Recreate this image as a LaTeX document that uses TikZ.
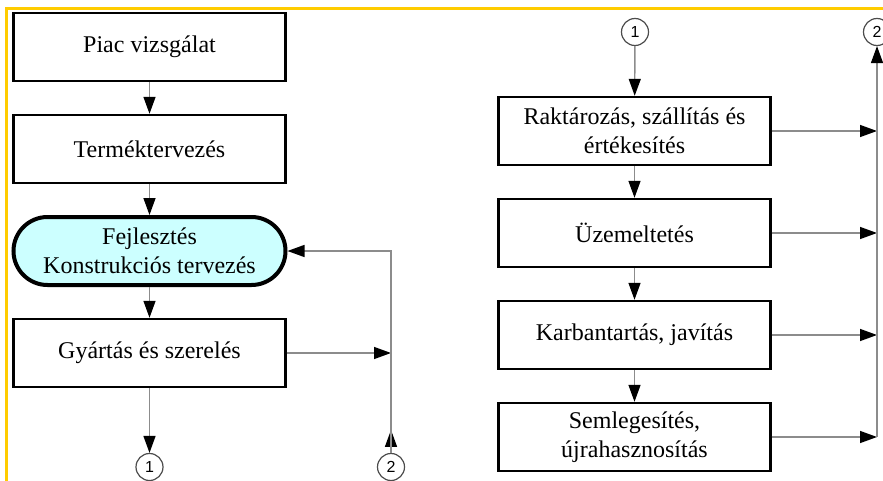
\documentclass[tikz,border=0pt]{standalone}
\usepackage{fontspec}
\setmainfont{Liberation Serif}
\newfontfamily\numfont{Liberation Sans}
\usetikzlibrary{arrows.meta, positioning}
\definecolor{keyfill}{HTML}{CCFFFF}
\definecolor{framegold}{HTML}{FFCC00}

\begin{document}
\begin{tikzpicture} [x = 0.5pt, y = -0.5pt, node distance = 51pt, on grid,
    box/.style = {draw, line width = 1.2pt, minimum width = 136pt, minimum height = 34pt,
                  align = center, font = \fontsize{12}{14.5}\selectfont},
    keybox/.style = {box, line width = 2pt, rounded corners = 17pt, fill = keyfill},
    conn/.style = {circle, draw = black!70, line width = 0.6pt, minimum size = 13.5pt,
                   inner sep = 0pt, font = \numfont\fontsize{8}{8}\selectfont},
    flow/.style = {draw = black!45, line width = 0.7pt,
                   -{Triangle[length = 8.5pt, width = 6pt, color = black]}}]
        \useasboundingbox (0,0) rectangle (883,481);
        \draw [framegold, line width = 1.5pt] (883,9) -- (6.5,9) -- (6.5,481);

        % left column
        \node (piac) [box] at (149.5,47) {Piac vizsgálat};
        \node (termek) [box, below = of piac] {Terméktervezés};
        \node (fejl) [keybox, below = of termek] {Fejlesztés\\Konstrukciós tervezés};
        \node (gyartas) [box, below = of fejl] {Gyártás és szerelés};
        \node (k1b) [conn] at (149.5,467) {1};
        \node (k2b) [conn] at (391,467) {2};

        % right column
        \node (k1t) [conn] at (635,32) {1};
        \node (raktar) [box] at (634.5,131) {Raktározás, szállítás és\\értékesítés};
        \node (uzem) [box, below = of raktar] {Üzemeltetés};
        \node (karb) [box, below = of uzem] {Karbantartás, javítás};
        \node (semleg) [box, below = of karb] {Semlegesítés,\\újrahasznosítás};
        \node (k2t) [conn] at (877,32) {2};

        \path [flow] (piac) edge (termek) (termek) edge (fejl) (fejl) edge (gyartas)
                     (gyartas) edge (k1b) (gyartas) edge (gyartas -| k2b);
        \draw [flow] (k2b.north) -- ++(0,-23);
        \draw [flow] (k2b) -- (k2b |- fejl) -- (fejl);

        \path [flow] (k1t) edge (raktar) (raktar) edge (uzem) (uzem) edge (karb) (karb) edge (semleg);
        \path [flow] (raktar) edge (raktar -| k2t) (uzem) edge (uzem -| k2t)
                     (karb) edge (karb -| k2t) (semleg) edge (semleg -| k2t);
        \draw [flow] (semleg -| k2t) -- (k2t);
    \end{tikzpicture}
\end{document}
